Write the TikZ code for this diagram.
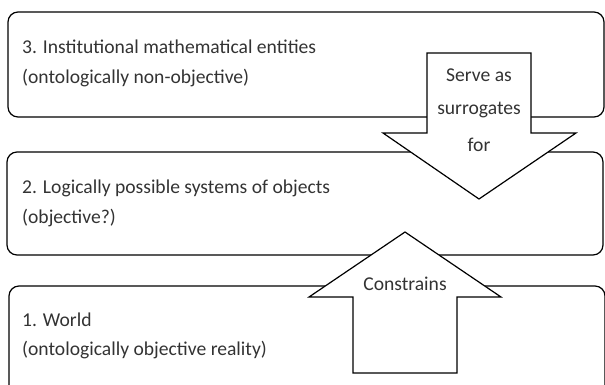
\documentclass[tikz,border=0pt]{standalone}
\usepackage{fontspec}
\setmainfont{Carlito}
\begin{document}
\begin{tikzpicture}[x=1pt,y=-1pt,
  layerbox/.style={draw=black,line width=1.2pt,rounded corners=10pt},
  blockarrow/.style={draw=black,fill=white,line width=1.2pt,line join=miter},
  lbl/.style={anchor=west,inner sep=0pt,font=\fontsize{19.6}{22}\selectfont,text=black!80},
  albl/.style={anchor=center,inner sep=0pt,font=\fontsize{19.6}{22}\selectfont,text=black!80}]
\useasboundingbox (0,0) rectangle (605,384);
\clip (0,0) rectangle (605,384);
% layer boxes
\draw[layerbox] (8,12) rectangle (604,117);
\draw[layerbox] (7,152) rectangle (603,255);
\draw[layerbox] (9,286) rectangle (605,410);
% down arrow
\draw[blockarrow] (427,53) -- (531,53) -- (531,133) -- (576,133) -- (479,199) -- (383,133) -- (427,133) -- cycle;
% up arrow
\draw[blockarrow] (405,232) -- (501,297) -- (457,297) -- (457,373) -- (353,373) -- (353,297) -- (309,297) -- cycle;
% texts
\node[lbl] (t3a) at (22,47) {3. Institutional mathematical entities};
\node[lbl] (t3b) at (22,78) {(ontologically non-objective)};
\node[lbl] (t2a) at (22,188) {2. Logically possible systems of objects};
\node[lbl] (t2b) at (22,218) {(objective?)};
\node[lbl] (t1a) at (22,320) {1. World};
\node[lbl] (t1b) at (22,350) {(ontologically objective reality)};
\node[albl] (s1) at (479,75) {Serve as};
\node[albl] (s2) at (479,110) {surrogates};
\node[albl] (s3) at (479,145) {for};
\node[albl] (c1) at (405,284) {Constrains};
\end{tikzpicture}
\end{document}
